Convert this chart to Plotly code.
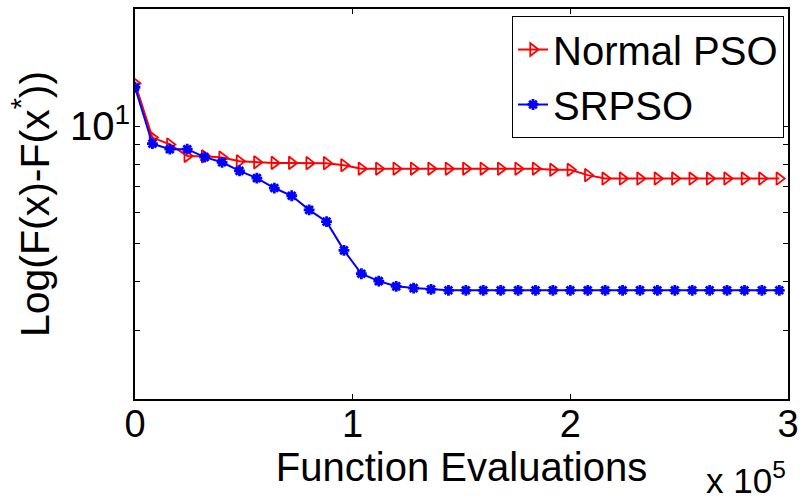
import plotly.graph_objects as go

# Function evaluations (x 1e5 on axis)
evals = [i * 8000 for i in range(38)]

normal_pso = [12.9, 9.36, 8.99, 8.40, 8.38, 8.32, 8.14, 8.09, 8.06, 8.06,
              8.05, 8.05, 7.95, 7.79, 7.79, 7.79, 7.79, 7.79, 7.79, 7.79,
              7.79, 7.79, 7.79, 7.79, 7.74, 7.74, 7.50, 7.35, 7.35, 7.35,
              7.35, 7.35, 7.35, 7.35, 7.35, 7.35, 7.35, 7.35]

srpso = [12.6, 9.03, 8.74, 8.74, 8.34, 8.09, 7.69, 7.37, 6.95, 6.64,
         6.11, 5.70, 4.81, 4.19, 4.01, 3.89, 3.85, 3.82, 3.80, 3.80,
         3.80, 3.80, 3.80, 3.80, 3.80, 3.80, 3.80, 3.80, 3.80, 3.80,
         3.80, 3.80, 3.80, 3.80, 3.80, 3.80, 3.80, 3.80]

x_tickvals = [0, 100000, 200000, 300000]
x_ticktext = ["0", "1", "2", "3"]
y_tickvals = [2, 3, 4, 5, 6, 7, 8, 9, 10, 20]
y_ticktext = ["", "", "", "", "", "", "", "", "10<sup>1</sup>", ""]

FONT = "Liberation Sans, Arial, sans-serif"

fig = go.Figure()
fig.add_trace(go.Scatter(
    x=evals, y=normal_pso, name="Normal PSO", mode="lines+markers",
    line=dict(color="#ff0000", width=2),
    marker=dict(symbol="triangle-right-open", size=11, color="#ff0000",
                line=dict(width=1.8, color="#ff0000")),
))
fig.add_trace(go.Scatter(
    x=evals, y=srpso, name="SRPSO", mode="lines+markers",
    line=dict(color="#0000ff", width=2),
    marker=dict(symbol="asterisk-open", size=9, color="#0000ff",
                line=dict(width=2.8, color="#0000ff")),
))

fig.update_layout(
    width=806, height=503,
    margin=dict(l=135, r=16, t=7, b=104),
    paper_bgcolor="white", plot_bgcolor="white",
    font=dict(family=FONT, color="black", size=38),
    showlegend=True,
    legend=dict(
        x=0.9939, y=0.982, xanchor="right", yanchor="top",
        bgcolor="white", bordercolor="black", borderwidth=1,
        font=dict(size=40, family=FONT), tracegroupgap=0,
        itemwidth=30,
    ),
)

fig.update_xaxes(
    range=[0, 300000], tickvals=x_tickvals, ticktext=x_ticktext,
    ticks="inside", ticklen=5, tickwidth=1, tickcolor="black",
    showline=True, linecolor="black", linewidth=2, mirror="ticks",
    showgrid=False, zeroline=False,
    tickfont=dict(size=38), ticklabelstandoff=-10,
    title=dict(text="Function Evaluations", font=dict(size=40), standoff=0),
)
fig.update_yaxes(
    type="log", range=[0.30103, 1.30103],
    tickvals=y_tickvals, ticktext=y_ticktext,
    ticks="inside", ticklen=5, tickwidth=1, tickcolor="black",
    showline=True, linecolor="black", linewidth=2, mirror="ticks",
    showgrid=False, zeroline=False,
    tickfont=dict(size=40), ticklabelstandoff=-5,
    title=dict(text="Log(F(x)-F(x<sup>*</sup>))", font=dict(size=41), standoff=8),
)

fig.add_annotation(
    xref="paper", yref="paper", x=1.0, y=-0.14,
    xanchor="right", yanchor="top", showarrow=False,
    text="x 10<sup>5</sup>", font=dict(size=35, family=FONT),
)

fig.write_html("out.html")
